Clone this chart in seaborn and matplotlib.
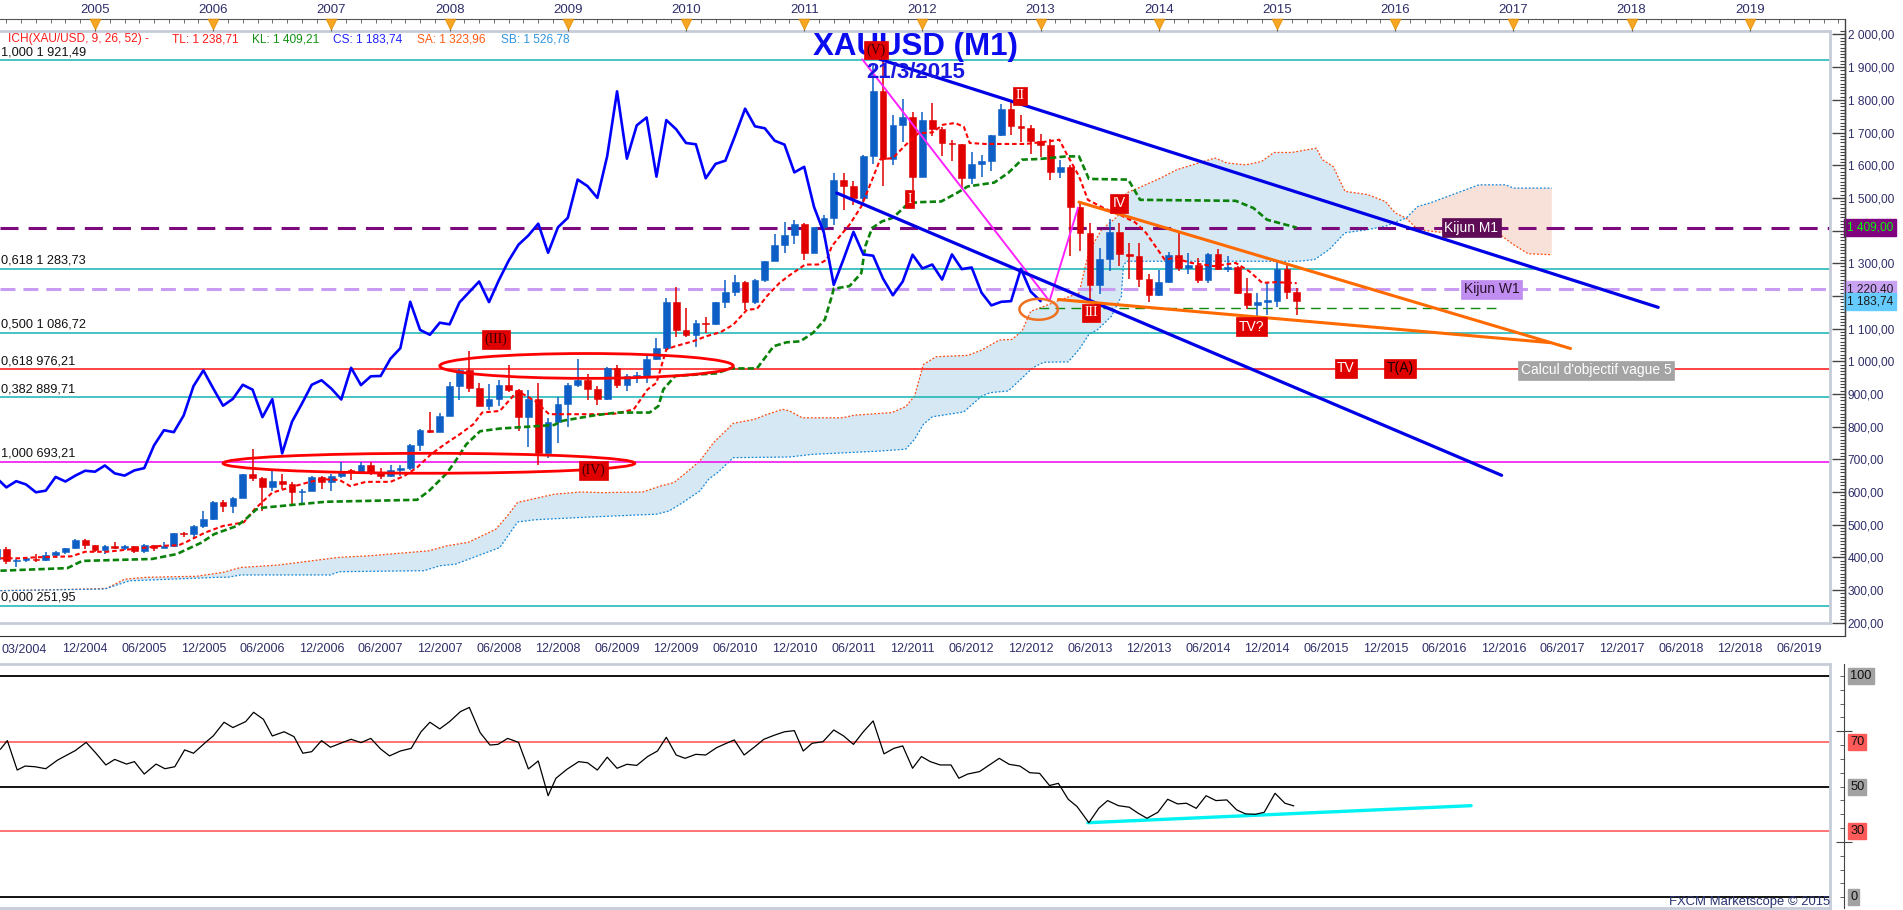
import numpy as np
import pandas as pd
import matplotlib
matplotlib.use("Agg")
import matplotlib.pyplot as plt
import matplotlib.ticker as mticker
from matplotlib.patches import Ellipse, Polygon
from matplotlib.lines import Line2D
import seaborn as sns

sns.set_style("white")
plt.rcParams["font.family"] = ["Liberation Sans", "DejaVu Sans"]

# ------------------------------------------------------------------ data
FIRST_MONTH = "2004-03"   # monthly candles, Mar 2004 .. Mar 2015
OPEN = [
    396, 426, 388, 393, 395, 391, 408, 416, 428, 453,
    438, 423, 435, 428, 435, 418, 437, 430, 434, 473, 470, 495,
    517, 569, 556, 583, 654, 643, 614, 633, 623, 599, 604, 646,
    632, 650, 665, 662, 681, 657, 650, 666, 673, 743, 789, 783,
    834, 924, 972, 917, 864, 885, 928, 913, 829, 884, 718, 815,
    870, 928, 942, 916, 883, 980, 927, 954, 955, 1008, 1040, 1182,
    1096, 1081, 1118, 1113, 1180, 1212, 1244, 1181, 1248, 1308, 1357, 1385,
    1421, 1332, 1410, 1439, 1556, 1536, 1500, 1628, 1826, 1620, 1722, 1746,
    1565, 1738, 1710, 1668, 1664, 1560, 1604, 1614, 1692, 1773, 1719, 1713,
    1675, 1663, 1578, 1595, 1472, 1393, 1234, 1313, 1396, 1327, 1323, 1253,
    1202, 1244, 1326, 1284, 1296, 1250, 1327, 1282, 1287, 1210, 1171, 1182,
    1184, 1283, 1213]
HIGH = [
    429, 432, 395, 398, 410, 416, 419, 429, 456, 456,
    438, 437, 447, 438, 436, 442, 439, 448, 475, 479, 498, 541,
    572, 575, 586, 655, 730, 645, 664, 654, 629, 610, 650, 649,
    654, 692, 671, 693, 693, 672, 683, 681, 746, 794, 846, 842,
    937, 976, 1032, 933, 930, 943, 988, 915, 913, 932, 825, 890,
    934, 1007, 961, 924, 983, 989, 960, 967, 1023, 1070, 1195, 1227,
    1162, 1126, 1136, 1181, 1249, 1265, 1245, 1251, 1308, 1388, 1425, 1431,
    1424, 1411, 1447, 1575, 1577, 1553, 1632, 1911, 1921, 1755, 1803, 1764,
    1763, 1791, 1718, 1678, 1665, 1640, 1631, 1693, 1787, 1796, 1755, 1724,
    1694, 1681, 1617, 1600, 1487, 1424, 1348, 1434, 1424, 1361, 1361, 1267,
    1280, 1333, 1392, 1331, 1315, 1332, 1345, 1323, 1293, 1255, 1208, 1239,
    1307, 1297, 1224]
LOW = [
    390, 381, 371, 386, 387, 388, 398, 410, 424, 426,
    417, 410, 424, 422, 414, 414, 418, 430, 432, 462, 456, 490,
    515, 538, 535, 583, 634, 543, 603, 608, 561, 560, 603, 608,
    603, 644, 637, 662, 652, 640, 647, 649, 668, 725, 780, 782,
    833, 880, 907, 862, 851, 863, 905, 786, 738, 681, 705, 750,
    800, 921, 882, 866, 880, 919, 909, 932, 934, 1003, 1035, 1075,
    1074, 1045, 1088, 1110, 1164, 1201, 1157, 1175, 1242, 1307, 1330, 1360,
    1309, 1330, 1381, 1417, 1462, 1478, 1478, 1603, 1535, 1602, 1670, 1523,
    1564, 1688, 1627, 1613, 1527, 1541, 1564, 1582, 1689, 1693, 1672, 1635,
    1626, 1555, 1562, 1321, 1338, 1180, 1207, 1275, 1291, 1251, 1227, 1181,
    1200, 1238, 1277, 1268, 1240, 1240, 1280, 1273, 1205, 1161, 1131, 1142,
    1167, 1190, 1142]
CLOSE = [
    426, 388, 393, 395, 391, 408, 416, 428, 453, 438,
    423, 435, 428, 435, 418, 437, 430, 434, 473, 470, 495, 517,
    569, 556, 583, 654, 643, 614, 633, 623, 599, 604, 646, 632,
    650, 665, 662, 681, 657, 650, 666, 673, 743, 789, 783, 834,
    924, 972, 917, 864, 885, 928, 913, 829, 884, 718, 815, 870,
    928, 942, 916, 883, 980, 927, 954, 955, 1008, 1040, 1182, 1096,
    1081, 1118, 1113, 1180, 1212, 1244, 1181, 1248, 1308, 1357, 1385, 1421,
    1332, 1410, 1439, 1556, 1536, 1500, 1628, 1826, 1620, 1722, 1746, 1565,
    1738, 1710, 1668, 1664, 1560, 1604, 1614, 1692, 1773, 1719, 1713, 1675,
    1663, 1578, 1595, 1472, 1393, 1234, 1313, 1396, 1327, 1323, 1253, 1202,
    1244, 1326, 1284, 1296, 1250, 1327, 1282, 1287, 1210, 1171, 1182, 1184,
    1283, 1213, 1184]

# Ichimoku lines (x = months since Jan 2005)
TENKAN_X = [-9.6, -7.8, -6.0, -2.4, -1.0, 1.2, 5.3, 6.7, 8.5, 9.2, 11.2, 13.0, 15.1, 16.2, 18.0,
            19.8, 21.6, 23.0, 24.8, 25.9, 27.5, 30.0, 31.4, 32.7, 34.1, 35.5, 37.0, 38.4, 39.3,
            41.1, 42.9, 44.7, 46.1, 48.4, 51.1, 52.9, 54.7, 56.1, 57.0, 58.0, 58.9, 60.7, 62.1,
            63.5, 64.8, 66.2, 67.2, 68.2, 69.5, 70.6, 72.1, 73.4, 74.3, 74.8, 75.6, 76.6, 77.8,
            78.9, 79.7, 81.0, 82.3, 83.6, 85.0, 86.1, 87.3, 88.2, 88.8, 90.4, 92.2, 94.5, 96.8,
            97.9, 98.6, 99.9, 100.8, 102.4, 104.0, 105.6, 106.7, 108.6, 109.5, 111.3, 113.6,
            115.8, 117.2, 118.5, 119.9, 122.0]
TENKAN_Y = [397, 397, 400, 403, 417, 417, 430, 435, 437, 446, 476, 496, 507, 547, 598,
            614, 629, 639, 637, 618, 631, 631, 649, 675, 715, 746, 776, 807, 843,
            848, 909, 878, 838, 838, 838, 840, 853, 914, 934, 1036, 1046, 1061, 1077,
            1089, 1112, 1158, 1160, 1199, 1240, 1265, 1296, 1296, 1311, 1352, 1382, 1418, 1474,
            1556, 1617, 1622, 1662, 1698, 1700, 1724, 1729, 1718, 1668, 1665, 1665, 1665, 1673,
            1678, 1637, 1566, 1494, 1469, 1449, 1425, 1393, 1311, 1316, 1301, 1291,
            1301, 1275, 1240, 1242, 1239]
KIJUN_X = [-9.6, -2.8, -1.3, 5.8, 8.3, 10.8, 12.1, 14.4, 15.3, 16.4, 17.1, 23.4, 32.7, 33.9,
           35.7, 36.6, 37.7, 39.1, 41.1, 46.6, 47.5, 50.6, 53.0, 56.3, 57.2, 57.7, 58.9, 63.1,
           64.5, 67.2, 68.9, 70.2, 71.6, 72.9, 74.1, 74.8, 75.0, 76.6, 77.8, 78.2, 78.9, 79.9,
           81.0, 82.6, 83.8, 85.9, 87.5, 88.6, 91.3, 92.7, 94.1, 95.9, 98.6, 99.9, 100.9, 104.9,
           106.1, 115.8, 117.6, 119.0, 121.5, 122.0]
KIJUN_Y = [359, 367, 389, 395, 410, 445, 471, 496, 517, 547, 552, 570, 576, 603,
           657, 695, 746, 786, 794, 805, 818, 834, 843, 843, 863, 914, 955, 963,
           978, 978, 1046, 1058, 1061, 1087, 1128, 1199, 1222, 1230, 1270, 1352, 1408, 1428,
           1439, 1484, 1487, 1489, 1515, 1535, 1547, 1576, 1617, 1619, 1627, 1627, 1558, 1556,
           1494, 1491, 1469, 1433, 1413, 1409]
SENKOU_A_X = [-9.6, -5.6, -0.6, 1.2, 3.0, 5.3, 10.3, 13.0, 14.8, 18.5, 24.8, 28.0, 33.9, 35.7,
              37.9, 40.7, 42.0, 42.9, 46.6, 49.3, 51.5, 55.6, 57.4, 58.8, 60.4, 61.4, 62.8, 64.8,
              66.9, 68.2, 69.8, 70.5, 71.8, 75.9, 77.1, 80.9, 82.3, 83.2, 84.1, 85.4, 88.6, 90.0,
              91.8, 93.1, 94.1, 95.0, 95.9, 97.7, 99.9, 100.9, 102.2, 103.8, 104.7, 105.9, 108.2,
              109.8, 112.5, 113.7, 114.9, 116.8, 118.4, 119.7, 121.5, 123.0, 124.0, 124.6, 125.7,
              126.9, 129.2, 131.0, 132.0, 133.1, 134.3, 137.0, 139.7, 142.4, 144.0, 145.5, 147.9]
SENKOU_A_Y = [298, 300, 303, 305, 333, 339, 342, 354, 369, 376, 400, 405, 420, 435,
              446, 486, 532, 568, 593, 600, 598, 600, 618, 629, 669, 695, 751, 810,
              822, 837, 853, 848, 827, 827, 835, 843, 861, 893, 990, 1014, 1018, 1034,
              1065, 1067, 1092, 1153, 1163, 1184, 1209, 1336, 1403, 1443, 1515, 1530, 1561,
              1586, 1611, 1622, 1607, 1601, 1611, 1639, 1639, 1647, 1652, 1617, 1596,
              1520, 1510, 1489, 1454, 1438, 1403, 1393, 1398, 1393, 1357, 1329, 1326]
SENKOU_B_X = [-9.6, 1.0, 3.5, 12.6, 13.5, 14.8, 23.9, 24.8, 33.4, 35.0, 36.6, 41.1, 42.9, 44.7,
              49.3, 57.0, 58.3, 59.7, 61.4, 62.3, 63.2, 64.8, 70.5, 72.8, 79.6, 82.3, 83.2, 84.1,
              85.0, 88.2, 90.0, 90.9, 92.7, 93.6, 95.2, 96.3, 98.8, 99.9, 100.9, 101.8, 103.2,
              104.2, 104.4, 104.7, 122.2, 123.8, 125.3, 126.9, 129.2, 131.0, 133.1, 134.3, 135.5,
              140.5, 143.2, 144.0, 147.9]
SENKOU_B_Y = [298, 303, 328, 339, 339, 346, 346, 356, 359, 374, 379, 430, 508, 515,
              522, 532, 542, 568, 603, 639, 659, 705, 707, 715, 725, 731, 761, 807,
              830, 845, 893, 904, 909, 934, 980, 997, 998, 1036, 1082, 1097, 1138,
              1199, 1291, 1306, 1306, 1311, 1342, 1393, 1403, 1413, 1438, 1474, 1484,
              1540, 1540, 1530, 1530]
CLOUD_CROSS_X = 133.1

RSI_X = [-9.6, -8.9, -7.9, -7.1, -6.1, -5.0, -3.8, -2.0, -0.9, 0.1,
         1.1, 2.0, 3.2, 4.0, 5.0, 6.2, 7.1, 8.1, 9.1, 10.0,
         11.3, 12.0, 13.1, 14.0, 15.3, 16.1, 17.1, 18.0, 19.2, 20.2,
         21.1, 22.0, 23.0, 23.9, 25.1, 26.0, 27.0, 28.0, 29.0, 29.9,
         31.0, 32.1, 33.1, 34.0, 35.0, 36.0, 37.1, 38.0, 39.1, 40.1,
         40.9, 41.9, 43.0, 44.0, 45.0, 46.0, 46.8, 47.9, 49.1, 50.0,
         51.0, 52.0, 53.0, 54.0, 55.0, 56.1, 57.1, 58.0, 59.0, 59.9,
         61.0, 62.0, 63.1, 64.1, 64.9, 65.9, 67.0, 67.9, 69.0, 70.0,
         71.0, 71.9, 72.8, 73.9, 75.0, 76.0, 77.0, 78.0, 79.0, 80.1,
         81.1, 82.0, 83.0, 83.9, 84.8, 85.8, 86.9, 87.7, 88.6, 89.8,
         90.8, 91.8, 92.8, 93.9, 94.9, 95.9, 96.9, 97.8, 98.8, 99.7,
         100.9, 101.9, 102.8, 103.9, 105.0, 105.9, 106.8, 107.9, 108.9, 109.9,
         110.8, 111.8, 112.8, 113.8, 114.9, 115.9, 116.8, 117.8, 118.7, 119.8,
         120.8, 121.7]
RSI_Y = [66.9, 70.8, 57.5, 59.3, 59.0, 58.1, 62.0, 66.3, 70.0, 65.1,
         59.8, 62.3, 60.2, 61.3, 55.7, 60.2, 58.1, 59.0, 66.6, 65.1,
         70.3, 72.9, 79.1, 76.7, 79.4, 83.6, 80.4, 72.9, 74.8, 72.6,
         65.1, 65.8, 70.8, 67.8, 69.9, 71.4, 69.9, 71.8, 67.0, 63.9,
         66.1, 67.3, 74.8, 79.1, 76.1, 79.4, 83.9, 85.8, 74.4, 68.8,
         69.1, 71.8, 70.0, 58.0, 61.6, 45.9, 53.8, 57.8, 61.3, 60.8,
         57.5, 63.3, 58.3, 60.1, 59.6, 63.6, 66.1, 72.3, 64.3, 62.8,
         64.6, 64.3, 67.6, 69.6, 71.1, 64.3, 68.1, 71.4, 73.3, 74.8,
         75.3, 66.1, 69.6, 70.3, 75.6, 72.9, 69.1, 74.8, 79.7, 64.8,
         67.3, 68.4, 58.3, 63.6, 61.3, 59.8, 59.8, 53.8, 55.7, 56.8,
         59.8, 62.8, 60.1, 59.3, 56.3, 56.0, 50.5, 51.5, 44.3, 41.0,
         33.7, 40.2, 43.7, 41.4, 40.7, 38.0, 35.7, 38.4, 44.3, 42.2,
         42.5, 40.2, 45.9, 43.7, 44.0, 39.5, 37.7, 37.5, 38.4, 47.0,
         42.5, 41.3]
RSI_LEVELS = [100, 70, 50, 30, 0]
RSI_TREND_X = [100.8, 139.7]
RSI_TREND_Y = [33.7, 41.4]

FIB_LEVELS = [1921.49, 1283.73, 1086.72, 976.21, 889.71, 693.21, 251.95]
FIB_LABELS = ["1,000 1 921,49", "0,618 1 283,73", "0,500 1 086,72", "0,618 976,21",
              "0,382 889,71", "1,000 693,21", "0,000 251,95"]
KIJUN_M1 = 1409.00
KIJUN_W1 = 1220.40
LAST_PRICE = 1183.74
SUPPORT_LEVEL = 1164.0
SUPPORT_X = [95.8, 142.7]

WAVE_X = [77.9, 96.9, 99.8]
WAVE_Y = [1924, 1184, 1470]
CHANNEL_TOP_X = [79.7, 158.7]
CHANNEL_TOP_Y = [1924, 1165]
CHANNEL_BOT_X = [75.3, 142.8]
CHANNEL_BOT_Y = [1515, 651]
WEDGE_TOP_X = [99.9, 149.8]
WEDGE_TOP_Y = [1487, 1039]
WEDGE_BOT_X = [97.8, 147.7]
WEDGE_BOT_Y = [1189, 1057]

HEADER = ["ICH(XAU/USD, 9, 26, 52) -", "TL: 1 238,71", "KL: 1 409,21",
          "CS: 1 183,74", "SA: 1 323,96", "SB: 1 526,78"]
YEARS = list(range(2005, 2020))
DATE_LABELS = ["12/2004"] + [f"{m:02d}/{y}" for y in range(2005, 2020) for m in (6, 12)][:-1]
HIDDEN_PRICE_TICKS = [1400, 1200]   # covered by the highlighted boxes in the original

# ------------------------------------------------------------------ figure
W, H = 1903, 910
fig = plt.figure(figsize=(W / 100, H / 100), dpi=100, facecolor="white")


def rect(l, t, r, b):
    return [l / W, 1 - b / H, (r - l) / W, (b - t) / H]


XL, XR = -9.645, 176.14
YB, YT = 199.0, 2010.7
XR_RULER = XL + (XR - XL) * 1845 / 1830
RB, RT = -4.84, 105.42

ax = fig.add_axes(rect(0, 31, 1830, 623))
ax_top = fig.add_axes(rect(0, 19, 1845, 31))
ax_bot = fig.add_axes(rect(0, 623, 1845, 636))
ax_r = fig.add_axes(rect(1830, 31, 1845, 623))
ax_rsi = fig.add_axes(rect(0, 664, 1830, 908))
ax_rr = fig.add_axes(rect(1830, 664, 1844, 908))

AX_TXT = "#2e2e6a"
BORDER = "#c6cdd8"
SMALL = 9.0

months = pd.period_range(FIRST_MONTH, periods=len(CLOSE), freq="M")
pos = np.asarray((months.year - 2005) * 12 + months.month - 1, dtype=float)
o, h, l, c = (np.asarray(v, dtype=float) for v in (OPEN, HIGH, LOW, CLOSE))

# --- main panel
ax.set_xlim(XL, XR)
ax.set_ylim(YB, YT)
ax.set_xticks([])
ax.set_yticks([])
for side in ("top", "right", "bottom"):
    ax.spines[side].set_color(BORDER)
    ax.spines[side].set_linewidth(2)
ax.spines["left"].set_visible(False)

# cloud
sa = list(zip(SENKOU_A_X, SENKOU_A_Y))
sb = list(zip(SENKOU_B_X, SENKOU_B_Y))
blue_poly = [p for p in sa if p[0] <= CLOUD_CROSS_X] + [p for p in sb if p[0] <= CLOUD_CROSS_X][::-1]
pink_poly = [p for p in sa if p[0] >= CLOUD_CROSS_X] + [p for p in sb if p[0] >= CLOUD_CROSS_X][::-1]
ax.add_patch(Polygon(blue_poly, closed=True, facecolor="#d5e8f3", edgecolor="none", zorder=1))
ax.add_patch(Polygon(pink_poly, closed=True, facecolor="#f8e1d9", edgecolor="none", zorder=1))
ax.plot(SENKOU_A_X, SENKOU_A_Y, color="#ff4a10", lw=0.9, ls=(0, (1.5, 1.5)), zorder=2)
ax.plot(SENKOU_B_X, SENKOU_B_Y, color="#1487d8", lw=0.9, ls=(0, (1.5, 1.5)), zorder=2)

# horizontal levels
fib_colors = ["#13b3b3", "#13b3b3", "#13b3b3", "#ff1010", "#13b3b3", "#f000f0", "#13b3b3"]
for lvl, lbl, col in zip(FIB_LEVELS, FIB_LABELS, fib_colors):
    ax.axhline(lvl, color=col, lw=1.1, zorder=2)
    ax.annotate(lbl, xy=(0, lvl), xycoords=ax.get_yaxis_transform(), xytext=(1, 2),
                textcoords="offset pixels", fontsize=9.2, va="bottom", ha="left",
                color="#111111", zorder=6)
ax.axhline(KIJUN_M1, color="#7d0a7d", lw=2.2, ls=(0, (5.9, 3.3)), zorder=2.5)
ax.axhline(KIJUN_W1, color="#c79cf2", lw=2.2, ls=(0, (4.9, 2.6)), zorder=2.5)
ax.plot(SUPPORT_X, [SUPPORT_LEVEL] * 2, color="#108a10", lw=1.0, ls=(0, (7, 4.5)), zorder=2.5)

# candles
up = c >= o
cols = np.where(up, "#0d5fc6", "#e00000")
ax.vlines(pos, l, h, colors=cols, lw=1.1, zorder=3)
body_lo = np.minimum(o, c)
body_h = np.maximum(np.abs(c - o), 4)
ax.bar(pos, body_h, bottom=body_lo, width=0.68, color=cols, edgecolor=cols, lw=0.4, zorder=3.1)

# tenkan / kijun / chikou
sns.lineplot(x=TENKAN_X, y=TENKAN_Y, ax=ax, color="#ff0000", linewidth=1.5,
             linestyle=(0, (2.2, 1.4)), sort=False, estimator=None, zorder=4)
sns.lineplot(x=KIJUN_X, y=KIJUN_Y, ax=ax, color="#0a820a", linewidth=1.9,
             linestyle=(0, (2.4, 1.2)), sort=False, estimator=None, zorder=4)
sns.lineplot(x=pos - 26, y=c, ax=ax, color="#0000ff", linewidth=1.9,
             sort=False, estimator=None, zorder=4)

# trend lines
ax.plot(WAVE_X, WAVE_Y, color="#ff22ff", lw=1.4, zorder=5)
ax.plot(CHANNEL_TOP_X, CHANNEL_TOP_Y, color="#0000e6", lw=2.3, zorder=5)
ax.plot(CHANNEL_BOT_X, CHANNEL_BOT_Y, color="#0000e6", lw=2.3, zorder=5)
ax.plot(WEDGE_TOP_X, WEDGE_TOP_Y, color="#ff6a00", lw=2.2, zorder=5)
ax.plot(WEDGE_BOT_X, WEDGE_BOT_Y, color="#ff6a00", lw=2.2, zorder=5)

# ellipses
ax.add_patch(Ellipse((49.9, 985.7), 29.8, 76, fill=False, ec="#ff0000", lw=2.0, zorder=5))
ax.add_patch(Ellipse((33.9, 687.8), 41.8, 61, fill=False, ec="#ff0000", lw=2.0, zorder=5))
ax.add_patch(Ellipse((95.8, 1159), 3.9, 64, fill=False, ec="#ee7020", lw=1.8, zorder=5))

# title
ax.text(83.3, 1962, "XAUUSD (M1)", fontsize=22.5, fontweight="bold", color="#0b0bf0",
        ha="center", va="center", zorder=6)
ax.text(83.3, 1885, "21/3/2015", fontsize=16, fontweight="bold", color="#1818e0",
        ha="center", va="center", zorder=6)

# wave labels
SERIF = ["Liberation Serif", "DejaVu Serif"]
SANS = ["Liberation Sans", "DejaVu Sans"]
labels = [
    ("(V)", 79.3, 1952, "#e00000", "#3a0000", SERIF),
    ("I", 82.7, 1496, "#e00000", "white", SERIF),
    ("II", 93.9, 1812, "#e00000", "white", SERIF),
    ("III", 101.1, 1149, "#e00000", "white", SERIF),
    ("IV", 104.0, 1484, "#e00000", "white", SANS),
    ("TV?", 117.4, 1105, "#e00000", "white", SANS),
    ("TV", 127.0, 978, "#e00000", "white", SANS),
    ("T(A)", 132.5, 978, "#e00000", "#1a0000", SANS),
    ("(III)", 40.7, 1067, "#e00000", "#3a0000", SERIF),
    ("(IV)", 50.6, 665, "#e00000", "#3a0000", SERIF),
    ("Calcul d'objectif vague 5", 152.4, 972, "#a4a4a4", "white", SANS),
    ("Kijun M1", 139.7, 1409, "#5e0c55", "white", SANS),
    ("Kijun W1", 141.8, 1220.4, "#c08ef0", "#2a102a", SANS),
]
for txt, x, y, bg, fg, fam in labels:
    ax.text(x, y, txt, fontsize=10, color=fg, family=fam, ha="center", va="center", zorder=7,
            bbox=dict(boxstyle="square,pad=0.18", fc=bg, ec=bg, lw=0.5))

# header line
header_x = [8, 172, 252, 333, 417, 501]
header_c = ["#ff1a1a", "#ff1a1a", "#139013", "#2020ff", "#ff5a14", "#2f95e0"]
for s, x, col in zip(HEADER, header_x, header_c):
    fig.text(x / W, 1 - 39 / H, s, color=col, fontsize=8.6, va="center", ha="left")

# --- right price ruler
ax_r.set_ylim(YB, YT)
ax_r.set_xlim(0, 1)
ax_r.patch.set_alpha(0)
for side in ("top", "left", "bottom"):
    ax_r.spines[side].set_visible(False)
ax_r.spines["right"].set_color("#444444")
ax_r.spines["right"].set_linewidth(1)
ax_r.set_xticks([])
ax_r.yaxis.tick_right()
ax_r.yaxis.set_major_locator(mticker.MultipleLocator(100))
ax_r.yaxis.set_minor_locator(mticker.MultipleLocator(10))


def price_fmt(v, _):
    if round(v) in HIDDEN_PRICE_TICKS:
        return ""
    return f"{v:,.2f}".replace(",", " ").replace(".", ",")


ax_r.yaxis.set_major_formatter(mticker.FuncFormatter(price_fmt))
ax_r.tick_params(axis="y", which="major", direction="in", length=9.4, width=1,
                 color="#444444", labelsize=8.6, labelcolor=AX_TXT, pad=2)
ax_r.tick_params(axis="y", which="minor", direction="in", length=3.6, width=0.8, color="#444444")
tr = ax_r.get_yaxis_transform()
for val, txt, bg, fg in [(KIJUN_M1, "1 409,00", "#800080", "#00ff00"),
                         (KIJUN_W1, "1 220,40", "#caa2f4", "#1a1a1a"),
                         (LAST_PRICE, "1 183,74", "#66ccff", "#1a1a1a")]:
    ax_r.text(1.13, val, txt, transform=tr, fontsize=8.6, color=fg, ha="left", va="center",
              zorder=6, clip_on=False,
              bbox=dict(boxstyle="square,pad=0.22", fc=bg, ec=bg))

# --- top year ruler
ax_top.set_xlim(XL, XR_RULER)
ax_top.set_ylim(0, 1)
ax_top.patch.set_alpha(0)
for side in ("left", "right", "bottom"):
    ax_top.spines[side].set_visible(False)
ax_top.spines["top"].set_color("#555555")
ax_top.set_yticks([])
year_pos = [(y - 2005) * 12 for y in YEARS]
ax_top.xaxis.tick_top()
ax_top.set_xticks(year_pos)
ax_top.set_xticklabels([str(y) for y in YEARS])
ax_top.xaxis.set_minor_locator(mticker.FixedLocator(np.arange(-9, XR_RULER, 1.5)))
ax_top.tick_params(axis="x", which="major", direction="in", length=8.6, color="#555555",
                   labelsize=9.5, labelcolor=AX_TXT, pad=2.0)
ax_top.tick_params(axis="x", which="minor", direction="in", length=3.2, color="#555555")
ax_top.scatter(year_pos, [0.62] * len(year_pos), marker="v", s=60, color="#f6a623",
               edgecolor="#e08a00", lw=0.5, transform=ax_top.get_xaxis_transform(),
               zorder=5, clip_on=False)

# --- bottom date ruler
ax_bot.set_xlim(XL, XR_RULER)
ax_bot.set_ylim(0, 1)
ax_bot.patch.set_alpha(0)
for side in ("left", "right", "top"):
    ax_bot.spines[side].set_visible(False)
ax_bot.spines["bottom"].set_color("#333333")
ax_bot.set_yticks([])
date_pos = []
for s in DATE_LABELS:
    mm, yy = s.split("/")
    date_pos.append((int(yy) - 2005) * 12 + int(mm) - 1)
ax_bot.set_xticks(date_pos)
ax_bot.set_xticklabels(DATE_LABELS)
ax_bot.xaxis.set_minor_locator(mticker.MultipleLocator(1))
ax_bot.tick_params(axis="x", which="major", direction="in", length=9.4, color="#444444",
                   labelsize=SMALL, labelcolor=AX_TXT, pad=5.0)
ax_bot.tick_params(axis="x", which="minor", direction="in", length=4.3, color="#444444")
fig.text(1 / W, 1 - 650 / H, "03/2004", fontsize=SMALL, color=AX_TXT, ha="left", va="center")

# vertical ruler line right of the price panel
fig.add_artist(Line2D([1845 / W, 1845 / W], [1 - 18.7 / H, 1 - 636 / H],
                      color="#444444", lw=1, transform=fig.transFigure))

# --- RSI panel
ax_rsi.set_xlim(XL, XR)
ax_rsi.set_ylim(RB, RT)
ax_rsi.set_xticks([])
ax_rsi.set_yticks([])
for side in ("top", "right", "bottom"):
    ax_rsi.spines[side].set_color(BORDER)
    ax_rsi.spines[side].set_linewidth(2)
ax_rsi.spines["left"].set_visible(False)
for lvl in RSI_LEVELS:
    ax_rsi.axhline(lvl, color="#000000" if lvl in (0, 50, 100) else "#ff4d4d",
                   lw=1.3 if lvl in (0, 50, 100) else 1.1, zorder=1)
sns.lineplot(x=RSI_X, y=RSI_Y, ax=ax_rsi, color="black", linewidth=0.9,
             sort=False, estimator=None, zorder=3)
ax_rsi.plot(RSI_TREND_X, RSI_TREND_Y, color="#00f2f2", lw=2.4, zorder=2)

ax_rr.set_ylim(RB, RT)
ax_rr.set_xlim(0, 1)
ax_rr.patch.set_alpha(0)
for side in ("top", "left", "bottom"):
    ax_rr.spines[side].set_visible(False)
ax_rr.spines["right"].set_color("#444444")
ax_rr.set_xticks([])
ax_rr.yaxis.tick_right()
ax_rr.yaxis.set_major_locator(mticker.FixedLocator([25, 75]))
ax_rr.yaxis.set_minor_locator(mticker.MultipleLocator(6.25))
ax_rr.yaxis.set_major_formatter(mticker.NullFormatter())
ax_rr.tick_params(axis="y", which="major", direction="inout", length=12, color="#444444")
ax_rr.tick_params(axis="y", which="minor", direction="in", length=3, color="#444444")
trr = ax_rr.get_yaxis_transform()
for lvl in RSI_LEVELS:
    bg = "#a2a2a2" if lvl in (0, 50, 100) else "#ff5a5a"
    ax_rr.text(1.45, lvl, str(lvl), transform=trr, fontsize=9.2, color="#111111",
               ha="left", va="center", clip_on=False,
               bbox=dict(boxstyle="square,pad=0.15", fc=bg, ec=bg))

fig.text(1830 / W, 1 - 902 / H, "FXCM Marketscope \u00a9 2015", fontsize=9.4,
         color="#2a3370", ha="right", va="center")

fig.savefig("out.png", dpi=100, facecolor="white")
